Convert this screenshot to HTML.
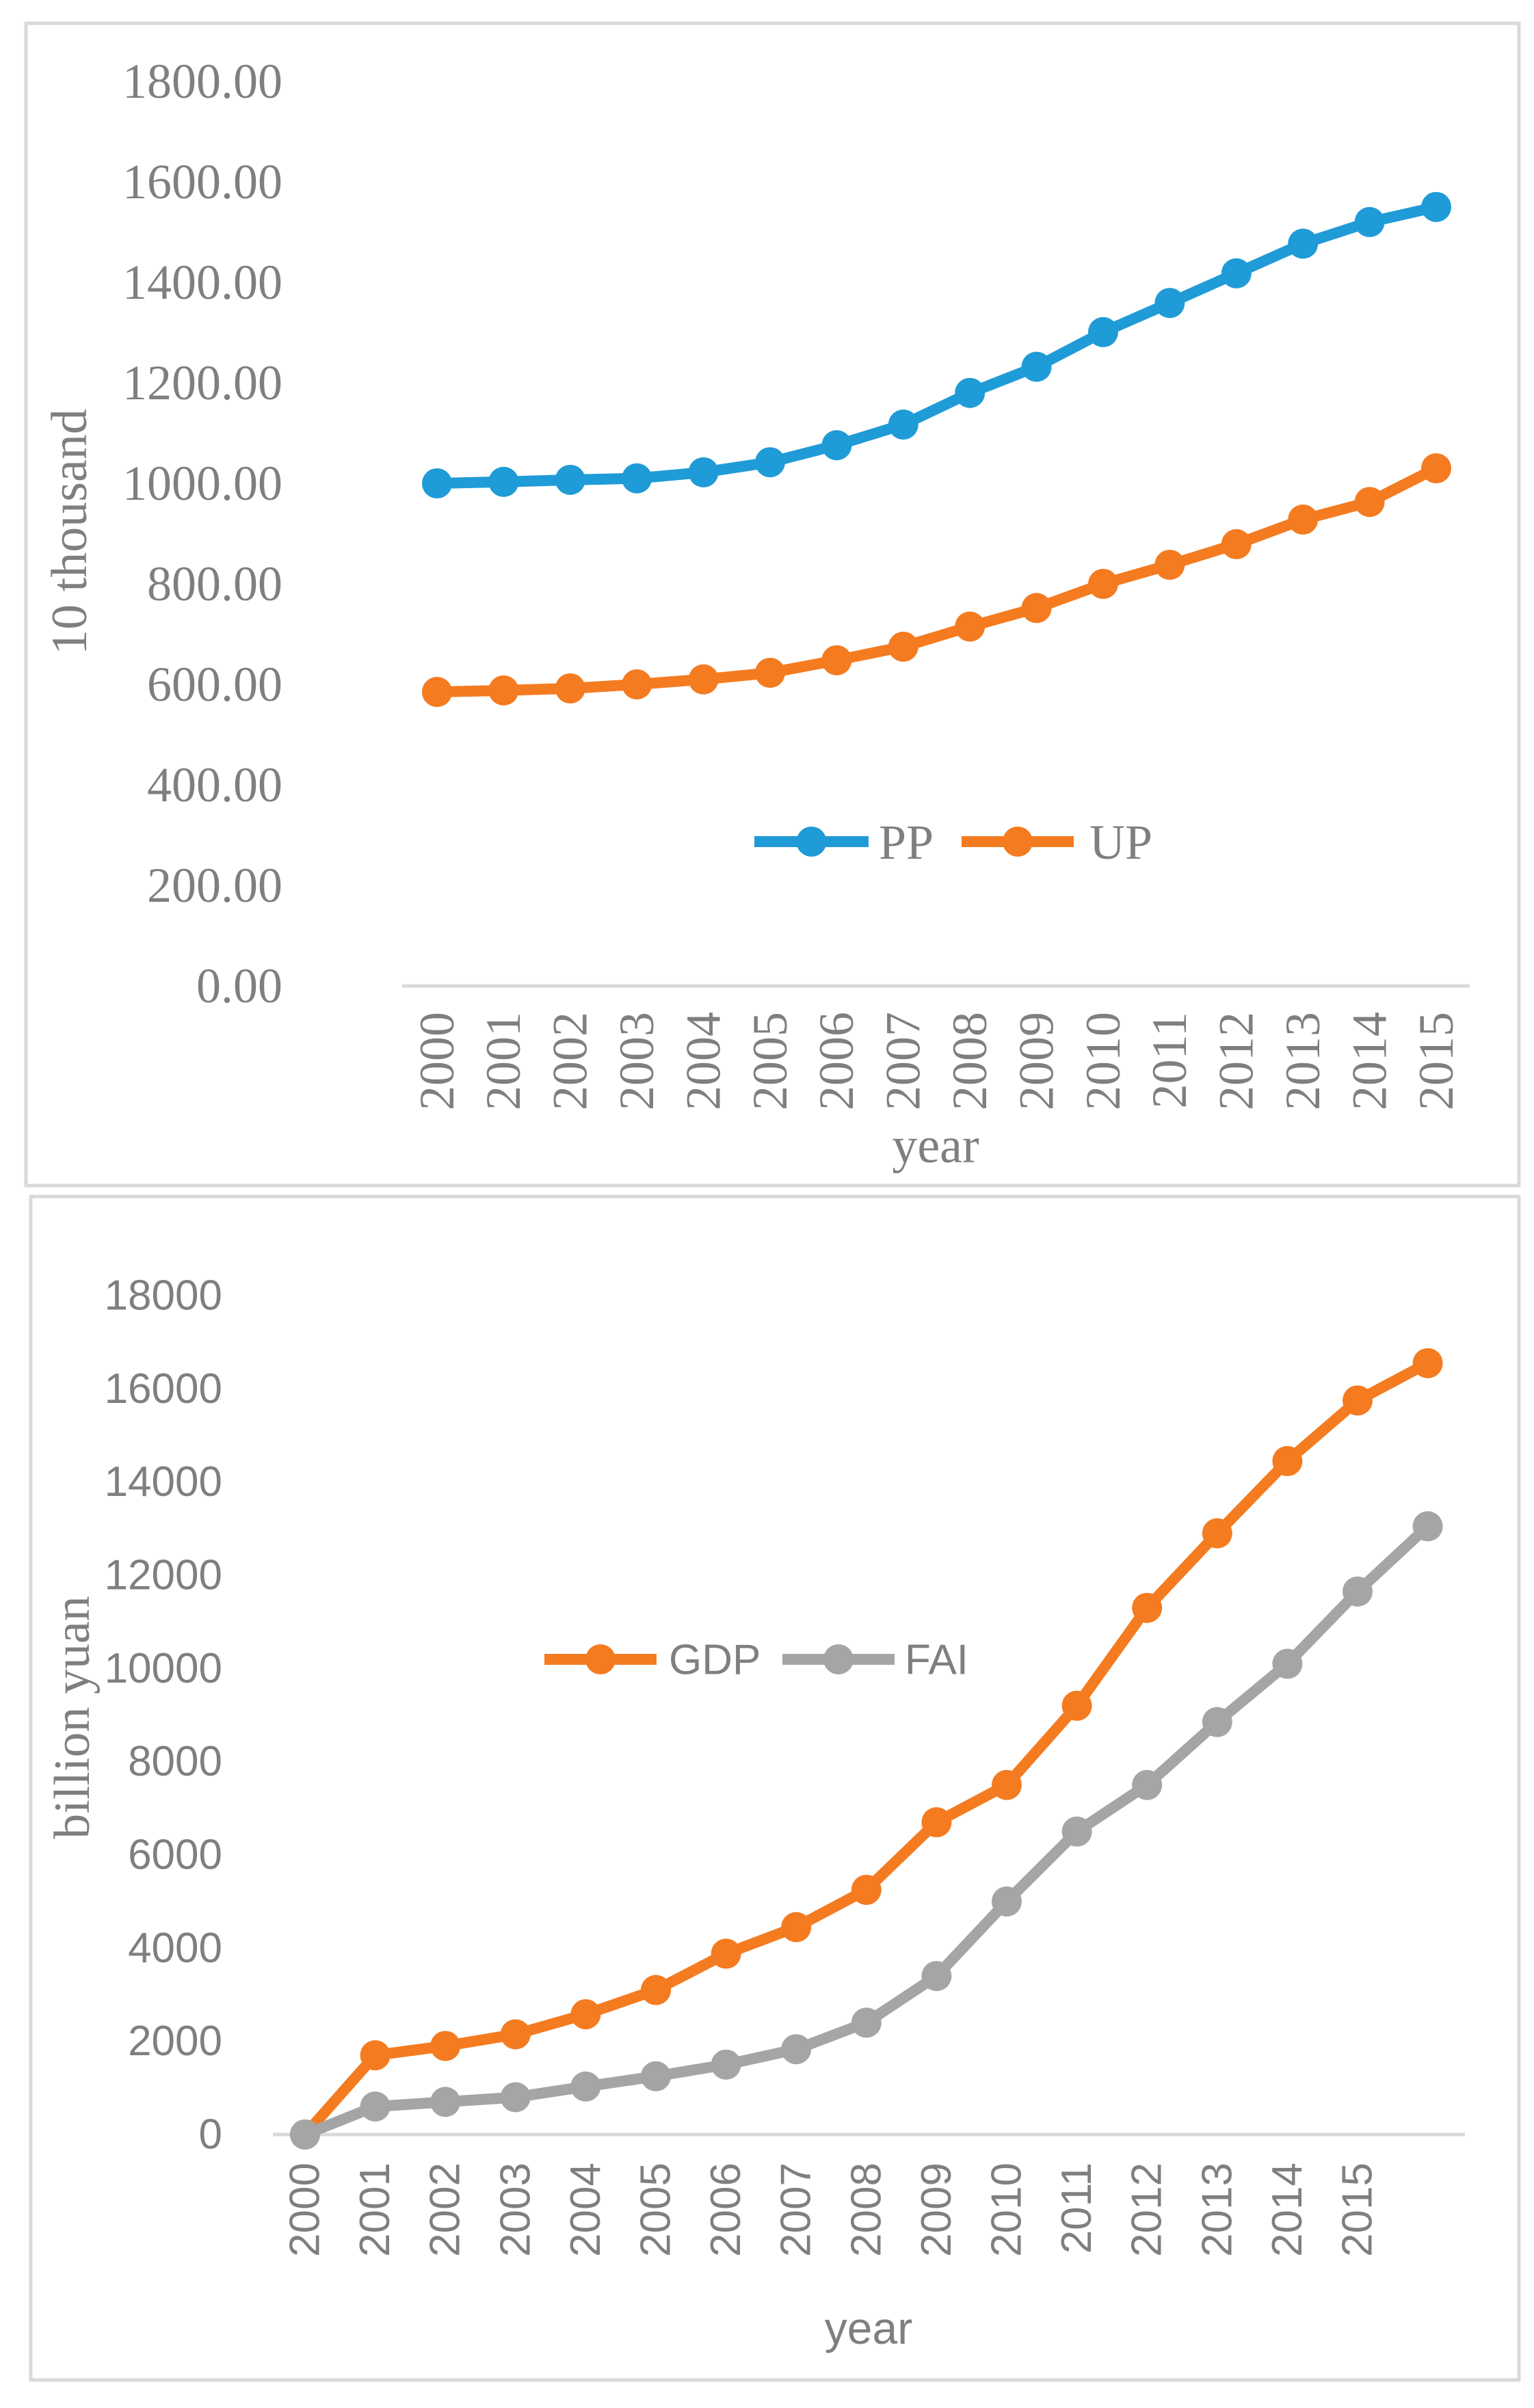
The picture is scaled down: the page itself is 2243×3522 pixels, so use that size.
<!DOCTYPE html>
<html><head><meta charset="utf-8"><style>
html,body{margin:0;padding:0;background:#fff;}
svg{display:block;}
</style></head><body>
<svg id="c" width="2243" height="3522" xmlns="http://www.w3.org/2000/svg">
<rect x="38" y="34" width="2183" height="1700" fill="#fff" stroke="#d9d9d9" stroke-width="5"/>
<rect x="45" y="1750" width="2176" height="1731" fill="#fff" stroke="#d9d9d9" stroke-width="5"/>
<g id="topchart"></g><g id="botchart"></g>
</svg>
<script>
const years1 = ["2000","2001","2002","2003","2004","2005","2006","2007","2008","2009","2010","2011","2012","2013","2014","2015"];
const ppValues = [1000,1003,1007,1010,1022,1042,1076,1117,1180,1232,1301,1359,1418,1477,1520,1550];
const upValues = [585,588,592,600,610,623,648,675,715,752,800,838,879,928,963,1030];
const ticks1 = ["0.00","200.00","400.00","600.00","800.00","1000.00","1200.00","1400.00","1600.00","1800.00"];
const years2 = ["2000","2001","2002","2003","2004","2005","2006","2007","2008","2009","2010","2011","2012","2013","2014","2015",""];
const gdpValues = [0,1700,1900,2150,2580,3100,3880,4450,5250,6700,7500,9200,11300,12900,14450,15750,16550];
const faiValues = [0,600,700,800,1030,1250,1500,1830,2400,3400,5000,6500,7500,8850,10100,11650,13050];
const ticks2 = ["0","2000","4000","6000","8000","10000","12000","14000","16000","18000"];

const NS="http://www.w3.org/2000/svg";
function mk(parent,tag,attrs,text){const e=document.createElementNS(NS,tag);for(const k in attrs)e.setAttribute(k,attrs[k]);if(text!==undefined)e.textContent=text;parent.appendChild(e);return e;}

function drawChart(g,cfg){
  const y=v=>cfg.y0-(v-cfg.vmin)/(cfg.vmax-cfg.vmin)*(cfg.y0-cfg.y1);
  const x=i=>cfg.x0+i*cfg.dx;
  cfg.ticks.forEach((t,i)=>{
    const v=cfg.vmin+i*(cfg.vmax-cfg.vmin)/(cfg.ticks.length-1);
    const e=mk(g,'text',{x:cfg.tickX,y:y(v)+cfg.fs*0.33,'text-anchor':'end','font-family':cfg.font,'font-size':cfg.fs,fill:'#7f7f7f'},t);
    
    
  });
  const ax=mk(g,'line',{x1:cfg.axX1,x2:cfg.axX2,y1:cfg.y0,y2:cfg.y0,stroke:'#d9d9d9','stroke-width':5});
  
  
  cfg.cats.forEach((c,i)=>{
    if(!c)return;
    const cx=x(i),ty=cfg.labelTop;
    const e=mk(g,'text',{x:0,y:0,transform:`translate(${cx+cfg.fs*0.33},${ty}) rotate(-90)`,'text-anchor':'end','font-family':cfg.font,'font-size':cfg.fs,fill:'#7f7f7f'},c);
    
    
  });
  cfg.series.forEach(s=>{
    const pts=s.vals.map((v,i)=>x(i)+','+y(v)).join(' ');
    const pl=mk(g,'polyline',{points:pts,fill:'none',stroke:s.color,'stroke-width':16,'stroke-linejoin':'round'});
    
    
    s.vals.forEach((v,i)=>{
      const c=mk(g,'circle',{cx:x(i),cy:y(v),r:22,fill:s.color});
      
      
    });
  });
}

const serif='"Liberation Serif", serif', sans='"Liberation Sans", sans-serif';
const topG=document.getElementById('topchart'), botG=document.getElementById('botchart');
drawChart(topG,{y0:1442,y1:119,vmin:0,vmax:1800,ticks:ticks1,tickX:413,fs:72,font:serif,axX1:588,axX2:2149,x0:639,dx:97.4,cats:years1,labelTop:1480,
  series:[{name:'pp',vals:ppValues,color:'#1f9bd7'},{name:'up',vals:upValues,color:'#f47b20'}]});
drawChart(botG,{y0:3122,y1:1895,vmin:0,vmax:18000,ticks:ticks2,tickX:325,fs:62,font:sans,axX1:399,axX2:2142,x0:446,dx:102.6,cats:years2,labelTop:3163,
  series:[{name:'gdp',vals:gdpValues,color:'#f47b20'},{name:'fai',vals:faiValues,color:'#a5a5a5'}]});

function txt(g,name,attrs,t){const e=mk(g,'text',attrs,t);return e;}
function legend(g,name,x1,x2,cy,color,label,tx,font,fs){
  const l=mk(g,'line',{x1:x1,x2:x2,y1:cy,y2:cy,stroke:color,'stroke-width':16});
  
  
  const c=mk(g,'circle',{cx:(x1+x2)/2,cy:cy,r:22,fill:color});
  
  
  txt(g,name+'-legend-label',{x:tx,y:cy+fs*0.35,'font-family':font,'font-size':fs,fill:'#7f7f7f'},label);
}
legend(topG,'pp',1103,1270,1231,'#1f9bd7','PP',1285,serif,72);
legend(topG,'up',1406,1570,1231,'#f47b20','UP',1593,serif,72);
legend(botG,'gdp',796,960,2427,'#f47b20','GDP',978,sans,62);
legend(botG,'fai',1144,1308,2427,'#a5a5a5','FAI',1323,sans,62);
txt(topG,'x-axis-title',{x:1368,y:1700,'text-anchor':'middle','font-family':serif,'font-size':74,fill:'#7f7f7f'},'year');
txt(topG,'y-axis-title',{x:0,y:0,transform:'translate(126,778) rotate(-90)','text-anchor':'middle','font-family':serif,'font-size':74,fill:'#7f7f7f'},'10 thousand');
txt(botG,'x-axis-title',{x:1270,y:3428,'text-anchor':'middle','font-family':sans,'font-size':66,fill:'#7f7f7f'},'year');
txt(botG,'y-axis-title',{x:0,y:0,transform:'translate(130,2512) rotate(-90)','text-anchor':'middle','font-family':serif,'font-size':74,fill:'#7f7f7f'},'billion yuan');
</script>
</body></html>
